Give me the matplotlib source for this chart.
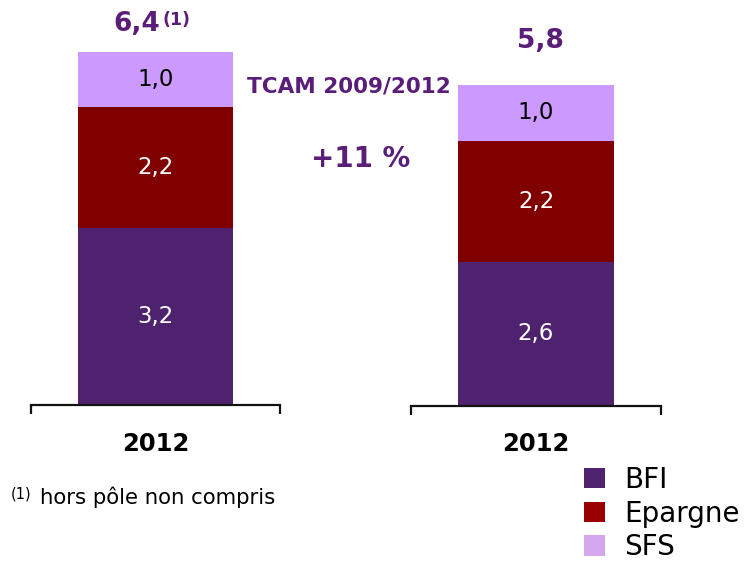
import matplotlib
matplotlib.use("Agg")
import matplotlib.pyplot as plt
from matplotlib.patches import Patch

plt.rcParams['font.family'] = ['DejaVu Sans']

# ---- data ----
categories = ['2012', '2012']
series_names = ['BFI', 'Epargne', 'SFS']
bfi = [3.2, 2.6]
epargne = [2.2, 2.2]
sfs = [1.0, 1.0]
total_labels = ['6,4', '5,8']
value_fmt = lambda v: f"{v:.1f}".replace('.', ',')

bar_colors = ['#4F2270', '#800000', '#CC99FF']
legend_colors = ['#4F2270', '#990000', '#D4A6EE']
label_colors = ['white', 'white', 'black']
purple = '#5A1E78'

W, H = 748, 561
fig = plt.figure(figsize=(W / 100, H / 100), dpi=100)

px_per_unit = 55.2
axes_px = [(31, 405, 249), (411, 405.5, 250)]  # left x, baseline y, width

total_offsets = [(-13.3, 20.2), (3.2, 32.0)]

for i, (x0, ybase, w) in enumerate(axes_px):
    ax = fig.add_axes([x0 / W, (H - ybase) / H, w / W, ybase / H])
    ax.set_xlim(-0.5, 0.5)
    ax.set_ylim(0, ybase / px_per_unit)
    bottom = 0
    vals = [bfi[i], epargne[i], sfs[i]]
    for v, c, lc in zip(vals, bar_colors, label_colors):
        ax.bar([0], [v], bottom=[bottom], width=0.625, color=c, linewidth=0)
        ax.text(0, bottom + v / 2, value_fmt(v), ha='center', va='center',
                fontsize=16.5, color=lc)
        bottom += v
    for s in ['top', 'left', 'right']:
        ax.spines[s].set_visible(False)
    ax.spines['bottom'].set_linewidth(1.6)
    ax.spines['bottom'].set_color('#111111')
    ax.set_yticks([])
    ax.set_xticks([-0.5, 0.5])
    ax.set_xticklabels(['', ''])
    ax.tick_params(axis='x', direction='out', length=6.5, width=1.6, color='#111111')
    # category label
    ax.annotate(categories[i], xy=(0, 0), xytext=(0, -28), textcoords='offset points',
                ha='center', va='center', fontsize=17.5, fontweight='bold', color='black')
    # total label
    dx, dy = total_offsets[i]
    ax.annotate(total_labels[i], xy=(0, bottom), xytext=(dx, dy), textcoords='offset points',
                ha='center', va='center', fontsize=19, fontweight='bold', color=purple)
    if i == 0:
        ax.annotate('(1)', xy=(0, bottom), xytext=(14.8, 23), textcoords='offset points',
                    ha='center', va='center', fontsize=12.5, fontweight='bold', color=purple)

# annotations
fig.text(349 / W, 1 - 86 / H, 'TCAM 2009/2012', ha='center', va='center',
         fontsize=15.5, fontweight='bold', color=purple)
fig.text(361 / W, 1 - 159 / H, '+11 %', ha='center', va='center',
         fontsize=20, fontweight='bold', color=purple)

# footnote
fig.text(11 / W, 1 - 494 / H, '(1)', ha='left', va='center', fontsize=10.5, color='black')
fig.text(40 / W, 1 - 497 / H, 'hors pôle non compris', ha='left', va='center',
         fontsize=15.3, color='black')

# legend
handles = [Patch(facecolor=c, edgecolor='none') for c in legend_colors]
fig.legend(handles, series_names, loc='upper left', bbox_to_anchor=(584 / W, 1 - 466 / H),
           frameon=False, fontsize=20, handlelength=0.75, handleheight=0.75,
           handletextpad=0.7, labelspacing=0.2, borderpad=0, borderaxespad=0)

fig.savefig('out.png', dpi=100)
